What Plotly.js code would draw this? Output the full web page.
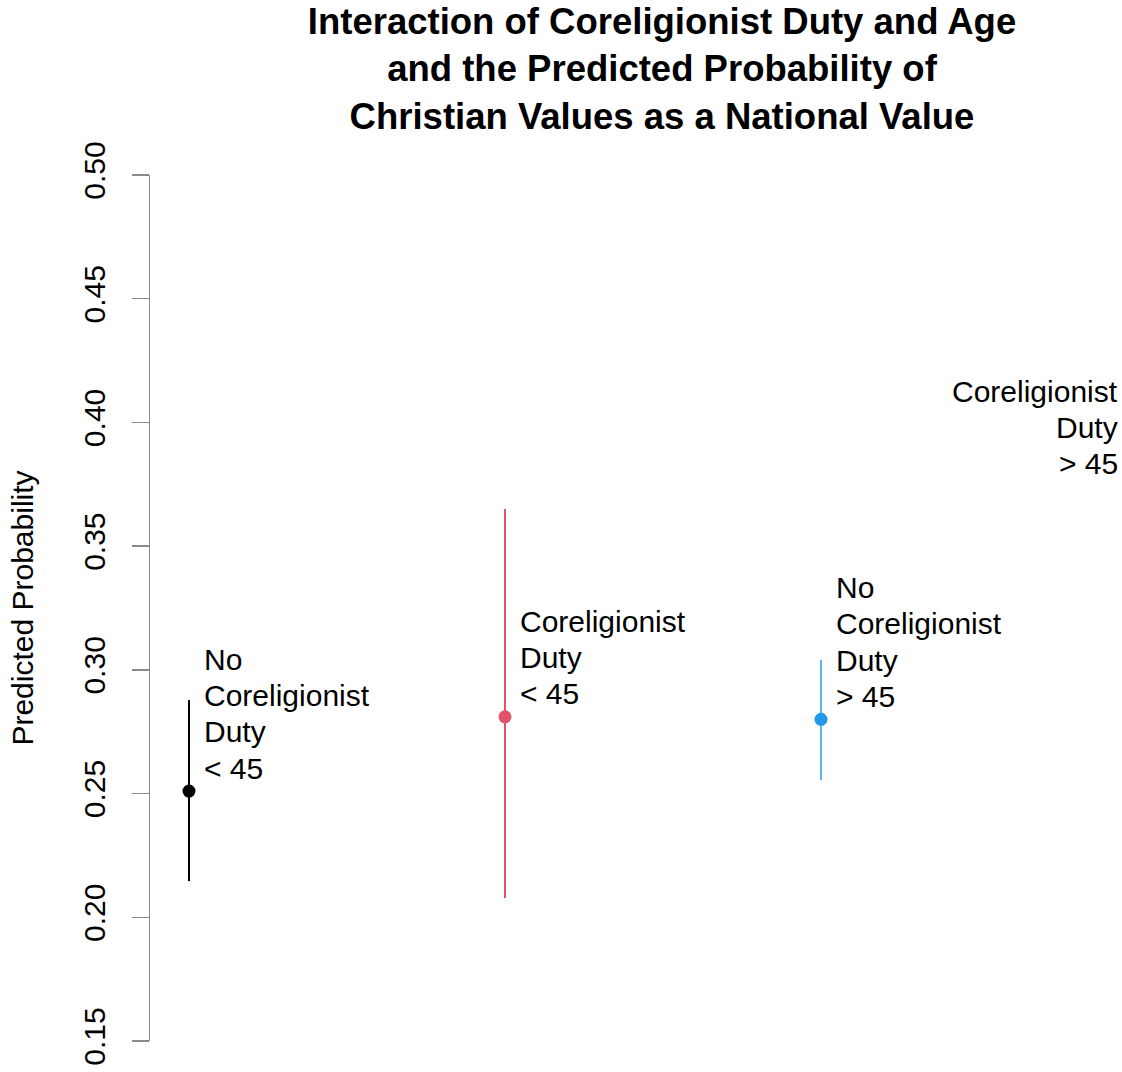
<!DOCTYPE html>
<html>
<head>
<meta charset="utf-8">
<script src="https://cdn.plot.ly/plotly-3.0.1.min.js"></script>
<style>html,body{margin:0;padding:0;background:#fff}</style>
</head>
<body>
<div id="chart" style="width:1122px;height:1072px"></div>
<script>
// Data
var groups = ["No Coreligionist Duty < 45", "Coreligionist Duty < 45", "No Coreligionist Duty > 45", "Coreligionist Duty > 45"];
var xPos = [1, 2, 3, 4];
var predicted = [0.251, 0.281, 0.280, 0.374];
var ciLower = [0.2146, 0.2078, 0.2555, 0.374];
var ciUpper = [0.2878, 0.365, 0.304, 0.374];
var pointColors = ["#000000", "#DF536B", "#2297E6", "#28E2E5"];
var lineColors = ["#000000", "#DF536B", "#5DB4EE", "#28E2E5"];
var labelLines = [
  ["No", "Coreligionist", "Duty", "< 45"],
  ["Coreligionist", "Duty", "< 45"],
  ["No", "Coreligionist", "Duty", "> 45"],
  ["Coreligionist", "Duty", "> 45"]
];
var yTicks = [0.15, 0.20, 0.25, 0.30, 0.35, 0.40, 0.45, 0.50];
var yTickText = ["0.15", "0.20", "0.25", "0.30", "0.35", "0.40", "0.45", "0.50"];

var FONT = "Liberation Sans, Arial, Helvetica, sans-serif";
var traces = [];
for (var i = 0; i < groups.length; i++) {
  traces.push({
    type: "scatter", mode: "markers",
    name: groups[i],
    x: [xPos[i]], y: [predicted[i]],
    marker: {color: pointColors[i], size: 13},
    error_y: {
      type: "data", symmetric: false,
      array: [ciUpper[i] - predicted[i]],
      arrayminus: [predicted[i] - ciLower[i]],
      color: lineColors[i], thickness: 2, width: 0
    },
    showlegend: false, hoverinfo: "x+y"
  });
}

var annotations = [];
var LINE = 36.3;
for (var g = 0; g < labelLines.length; g++) {
  var lines = labelLines[g];
  var n = lines.length;
  for (var k = 0; k < n; k++) {
    var a = {
      text: lines[k], showarrow: false,
      y: predicted[g], yref: "y", yanchor: "middle",
      yshift: 23 + (n - 1 - k) * LINE,
      font: {family: FONT, size: 30, color: "#000"}
    };
    if (g < 3) {
      a.x = xPos[g]; a.xref = "x"; a.xanchor = "left"; a.xshift = 13;
    } else {
      a.x = 1; a.xref = "paper"; a.xanchor = "right"; a.xshift = -2;
    }
    annotations.push(a);
  }
}

var layout = {
  width: 1122, height: 1072,
  margin: {l: 150, r: 0, t: 175, b: 31, pad: 0},
  paper_bgcolor: "#fff", plot_bgcolor: "#fff",
  title: {
    text: "<b>Interaction of Coreligionist Duty and Age<br>and the Predicted Probability of<br>Christian Values as a National Value</b>",
    font: {family: FONT, size: 36.5, color: "#000"},
    x: 662 / 1122, xref: "container", xanchor: "center",
    y: 1 - 34 / 1072, yref: "container", yanchor: "top"
  },
  xaxis: {
    range: [0.8766, 0.8766 + 972 / 316],
    visible: false, showgrid: false, zeroline: false, fixedrange: true
  },
  yaxis: {
    range: [0.15, 0.50],
    tickvals: yTicks, ticktext: yTickText,
    tickangle: -90,
    tickfont: {family: FONT, size: 30, color: "#000"},
    ticks: "outside", ticklen: 17, tickwidth: 1.3, tickcolor: "#8a8a8a",
    ticklabelstandoff: 15,
    showline: true, linecolor: "#8a8a8a", linewidth: 1.3,
    showgrid: false, zeroline: false, automargin: false,
    title: {text: "Predicted Probability", font: {family: FONT, size: 30, color: "#000"}, standoff: 35}
  },
  annotations: annotations
};

Plotly.newPlot("chart", traces, layout, {displayModeBar: false, staticPlot: true});
</script>
</body>
</html>
